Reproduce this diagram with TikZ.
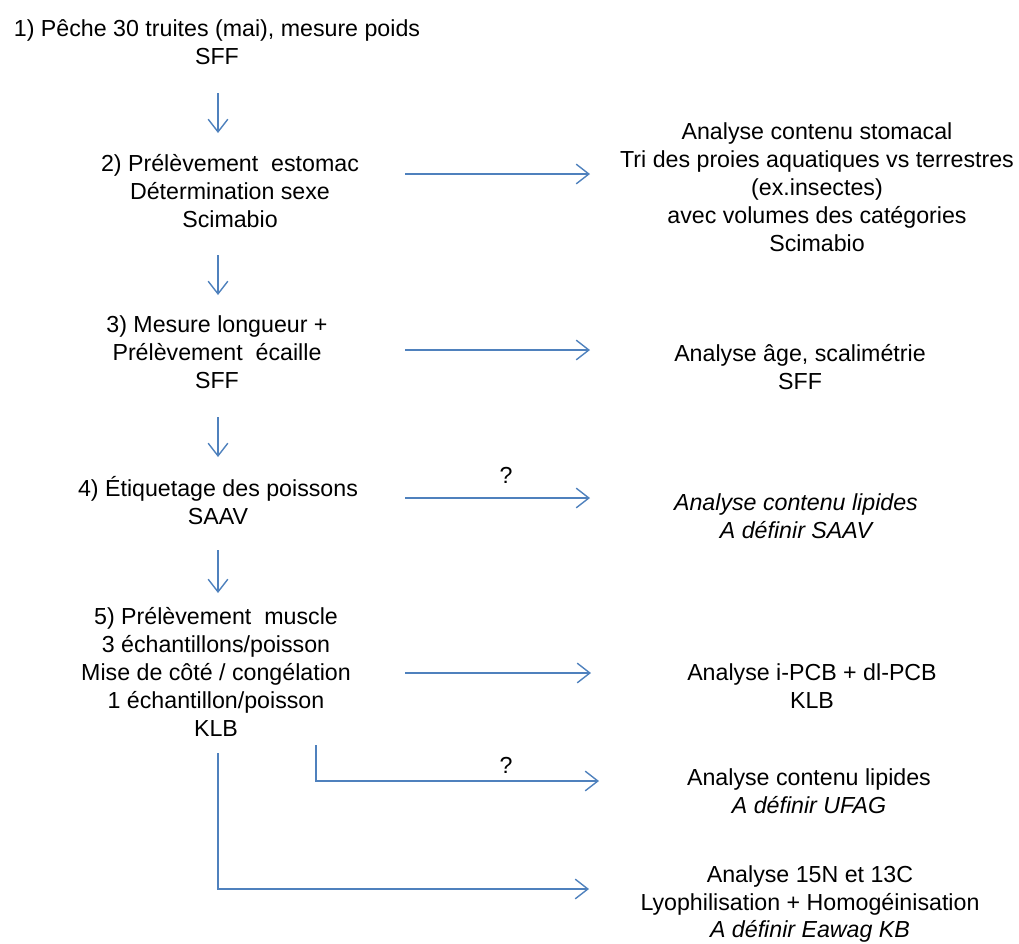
\documentclass[tikz,border=0pt]{standalone}
\usepackage{fontspec}
\setmainfont{Liberation Sans}
\usepackage{tikz}
\usetikzlibrary{arrows.meta,positioning}
\definecolor{office_blue}{RGB}{79,129,189}

\begin{document}
\begin{tikzpicture}[x=0.025cm, y=-0.025cm,
    font=\fontsize{16.5}{19.9}\selectfont,
    etape/.style={align=center, inner sep=0pt},
    analyse/.style={align=center, inner sep=0pt},
    fleche/.style={office_blue, line width=1pt,
      -{Straight Barb[length=9pt,width=14pt]}}]
  \useasboundingbox (0,0) rectangle (1019,943);
  % left column: the steps
  \node[etape] (s1) at (217,42) {1) Pêche 30 truites (mai), mesure poids\\SFF};
  \node[etape] (s2) at (230,191) {2) Prélèvement\ \ estomac\\Détermination sexe\\Scimabio};
  \node[etape] (s3) at (217,352) {3) Mesure longueur +\\Prélèvement\ \ écaille\\SFF};
  \node[etape] (s4) at (218,501) {4) Étiquetage des poissons\\SAAV};
  \node[etape] (s5) at (216,672) {5) Prélèvement\ \ muscle\\3 échantillons/poisson\\Mise de côté / congélation\\1 échantillon/poisson\\KLB};
  % right column: the analyses
  \node[analyse] (r2) at (817,187) {Analyse contenu stomacal\\Tri des proies aquatiques vs terrestres\\(ex.insectes)\\avec volumes des catégories\\Scimabio};
  \node[analyse] (r3) at (800,367) {Analyse âge, scalimétrie\\SFF};
  \node[analyse, font=\fontsize{16.5}{19.9}\selectfont\itshape] (r4) at (796,516) {Analyse contenu lipides\\A définir SAAV};
  \node[analyse] (r5a) at (812,686) {Analyse i-PCB + dl-PCB\\KLB};
  \node[analyse] (r5b) at (809,791) {Analyse contenu lipides\\\textit{A définir UFAG}};
  \node[analyse] (r5c) at (810,904) {Analyse 15N et 13C\\Lyophilisation + Homogéinisation\\\textit{A définir Eawag KB}};
  % arrow ends
  \coordinate (d1) at (218,93);  \coordinate (e1) at (218,133);
  \coordinate (d2) at (218,255); \coordinate (e2) at (218,295);
  \coordinate (d3) at (218,417); \coordinate (e3) at (218,457);
  \coordinate (d4) at (218,550); \coordinate (e4) at (218,593);
  \coordinate (h2) at (405,174); \coordinate (k2) at (590,174);
  \coordinate (h3) at (405,350); \coordinate (k3) at (590,350);
  \coordinate (h4) at (405,498); \coordinate (k4) at (590,498);
  \coordinate (h5) at (405,673); \coordinate (k5) at (591,673);
  \coordinate (h6) at (316,745); \coordinate (k6) at (599,781);
  \coordinate (h7) at (218,753); \coordinate (k7) at (589,889);
  \draw[fleche] (d1) -- (e1);
  \draw[fleche] (d2) -- (e2);
  \draw[fleche] (d3) -- (e3);
  \draw[fleche] (d4) -- (e4);
  \draw[fleche] (h2) -- (k2);
  \draw[fleche] (h3) -- (k3);
  \draw[fleche] (h4) -- (k4);
  \draw[fleche] (h5) -- (k5);
  \draw[fleche] (h6) |- (k6);
  \draw[fleche] (h7) |- (k7);
  \node (q1) at (506,475) {?};
  \node (q2) at (506,765) {?};
\end{tikzpicture}
\end{document}
